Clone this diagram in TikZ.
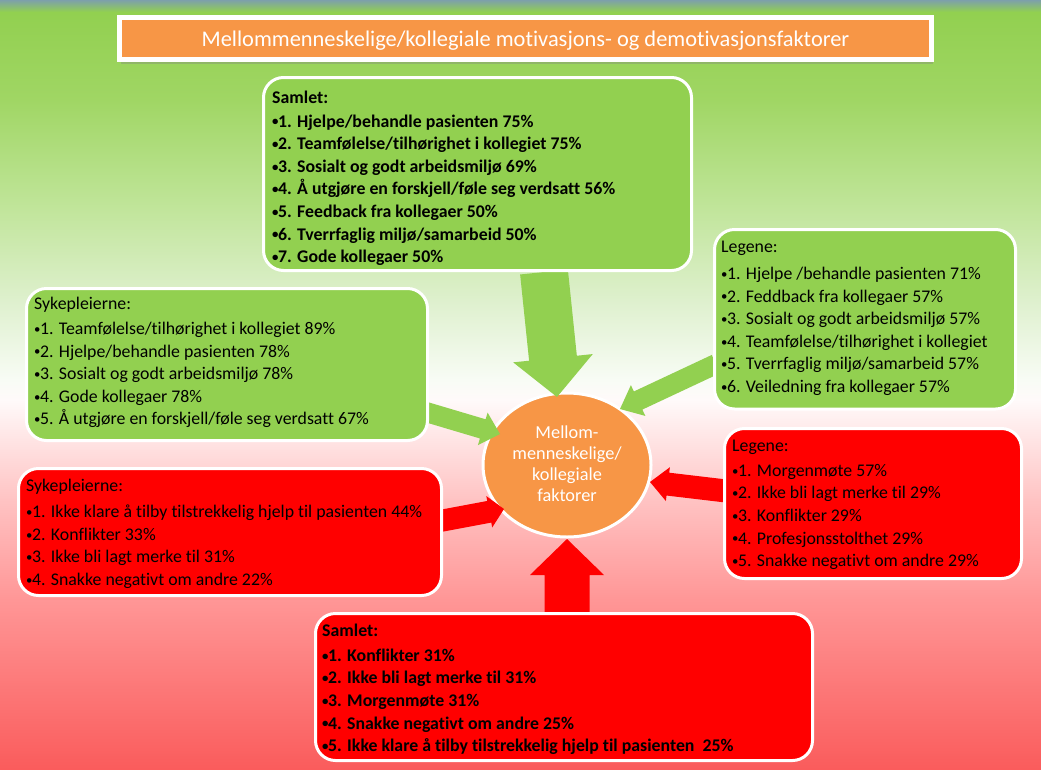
\documentclass[tikz,border=0pt]{standalone}
\usepackage{fontspec}
\usepackage{graphicx}
\setmainfont{Carlito}[Ligatures={NoCommon}]
\usetikzlibrary{calc,shadows,shapes.geometric}
\definecolor{gfill}{RGB}{146,208,80}
\definecolor{rfill}{RGB}{255,0,0}
\definecolor{ofill}{RGB}{247,150,70}
\definecolor{stripc}{RGB}{125,160,170}
\definecolor{bg0}{RGB}{250,92,92}
\definecolor{bg1}{RGB}{255,150,150}
\definecolor{bg2}{RGB}{255,195,195}
\definecolor{bg3}{RGB}{255,228,228}
\definecolor{bg4}{RGB}{255,250,250}
\definecolor{bg5}{RGB}{248,252,245}
\definecolor{bg6}{RGB}{222,240,205}
\definecolor{bg7}{RGB}{190,228,150}
\definecolor{bg8}{RGB}{160,214,100}
\definecolor{bg9}{RGB}{146,208,80}
\pgfdeclareverticalshading{bgshade}{100bp}{color(0bp)=(bg0); color(25bp)=(bg0); color(36bp)=(bg1); color(42.5bp)=(bg2); color(46.4bp)=(bg3); color(49bp)=(bg4); color(50.3bp)=(bg5); color(55.5bp)=(bg6); color(62bp)=(bg7); color(68.5bp)=(bg8); color(74.2bp)=(bg9); color(75bp)=(bg9); color(100bp)=(bg9)}
\newcommand\blockarrow[6]{%
  \path ($(#2)!#5!(#1)$) coordinate (babase);
  \fill[#6] ($(#1)!#3!90:(#2)$) -- ($(babase)!#3!90:(#2)$) -- ($(babase)!#4!90:(#2)$) -- (#2) -- ($(babase)!#4!-90:(#2)$) -- ($(babase)!#3!-90:(#2)$) -- ($(#1)!#3!-90:(#2)$) -- cycle;}
\newcommand\blt{\raisebox{1.2pt}{\scalebox{0.72}{•}}\kern-0.5pt}
\tikzset{
  boxg/.style={draw=white, line width=3pt, fill=gfill, rounded corners=20pt, inner sep=0pt},
  boxr/.style={draw=white, line width=3pt, fill=rfill, rounded corners=20pt, inner sep=0pt},
  txt/.style={align=left, inner sep=0pt, anchor=north west, text=black, font=\fontsize{17.8}{22.6}\selectfont},
  txtb/.style={txt, font=\fontsize{17.8}{22.6}\selectfont\bfseries}
}
\begin{document}
\begin{tikzpicture}[x=1pt,y=-1pt]
\useasboundingbox (0,0) rectangle (1041,769);
\shade[shading=bgshade] (0,0) rectangle (1041,769);
\shade[top color=stripc, bottom color=bg9] (0,0) rectangle (1041,12);

% title
\node[draw=white, line width=5pt, fill=ofill, minimum width=812pt, minimum height=42pt, inner sep=0pt,
      drop shadow={shadow xshift=1pt, shadow yshift=-4pt, opacity=0.35}] (tbox) at (525.5,38.5) {};
\node[text=white, font=\fontsize{22.4}{26}\selectfont, anchor=base, inner sep=0pt] (ttl) at (525.5,46.5)
  {Mellommenneskelige/kollegiale motivasjons- og demotivasjonsfaktorer};

% centre
\node[ellipse, draw=white, line width=3pt, fill=ofill, minimum width=168pt, minimum height=144pt, inner sep=0pt] (ctr) at (567,465) {};

% arrow end points
\coordinate (a1s) at (544,272); \coordinate (a1e) at (557,397);
\coordinate (a2s) at (716,364); \coordinate (a2e) at (620,409);
\coordinate (a3s) at (426,412); \coordinate (a3e) at (500,434);
\coordinate (a4s) at (440,521); \coordinate (a4e) at (504,509);
\coordinate (a5s) at (726,491); \coordinate (a5e) at (650,482);
\coordinate (a6s) at (567,614); \coordinate (a6e) at (567,539);
\blockarrow{a1s}{a1e}{24pt}{40pt}{39pt}{gfill}
\blockarrow{a2s}{a2e}{10pt}{17pt}{20pt}{gfill}
\blockarrow{a3s}{a3e}{10pt}{17pt}{18pt}{gfill}
\blockarrow{a4s}{a4e}{11pt}{16pt}{15pt}{rfill}
\blockarrow{a5s}{a5e}{11.5pt}{17pt}{18pt}{rfill}
\blockarrow{a6s}{a6e}{22.5pt}{37pt}{36pt}{rfill}

\node[text=white, font=\fontsize{18.3}{21}\selectfont, align=center, inner sep=0pt, anchor=north] (ctxt) at (567,423.3)
  {\strut Mellom-\\menneskelige/\\kollegiale\\faktorer};

% boxes
\node[boxg, minimum width=428pt, minimum height=193pt] (topg) at (477.5,174) {};
\node[boxg, minimum width=301pt, minimum height=179.5pt] (legg) at (865,319.25) {};
\node[boxg, minimum width=401pt, minimum height=152pt] (sykg) at (227,364.5) {};
\node[boxr, minimum width=423pt, minimum height=127pt] (sykr) at (230,532) {};
\node[boxr, minimum width=297pt, minimum height=150pt] (legr) at (873,503.5) {};
\node[boxr, minimum width=497pt, minimum height=147pt] (samr) at (564,687) {};

% texts
\node[txtb] (ttopg) at (272,87.1) {\strut Samlet:\\[1.3pt]
\blt1. Hjelpe/behandle pasienten 75\%\\
\blt2. Teamfølelse/tilhørighet i kollegiet 75\%\\
\blt3. Sosialt og godt arbeidsmiljø 69\%\\
\blt4. Å utgjøre en forskjell/føle seg verdsatt 56\%\\
\blt5. Feedback fra kollegaer 50\%\\
\blt6. Tverrfaglig miljø/samarbeid 50\%\\
\blt7. Gode kollegaer 50\%};

\node[txt] (tlegg) at (721,236.8) {\strut Legene:\\[4pt]
\blt1. Hjelpe /behandle pasienten 71\%\\
\blt2. Feddback fra kollegaer 57\%\\
\blt3. Sosialt og godt arbeidsmiljø 57\%\\
\blt4. Teamfølelse/tilhørighet i kollegiet\\
\blt5. Tverrfaglig miljø/samarbeid 57\%\\
\blt6. Veiledning fra kollegaer 57\%};

\node[txt] (tsykg) at (34,293.4) {\strut Sykepleierne:\\[2.5pt]
\blt1. Teamfølelse/tilhørighet i kollegiet 89\%\\
\blt2. Hjelpe/behandle pasienten 78\%\\
\blt3. Sosialt og godt arbeidsmiljø 78\%\\
\blt4. Gode kollegaer 78\%\\
\blt5. Å utgjøre en forskjell/føle seg verdsatt 67\%};

\node[txt] (tsykr) at (26,475.1) {\strut Sykepleierne:\\[4pt]
\blt1. Ikke klare å tilby tilstrekkelig hjelp til pasienten 44\%\\
\blt2. Konflikter 33\%\\
\blt3. Ikke bli lagt merke til 31\%\\
\blt4. Snakke negativt om andre 22\%};

\node[txt] (tlegr) at (732,435.1) {\strut Legene:\\[2.5pt]
\blt1. Morgenmøte 57\%\\
\blt2. Ikke bli lagt merke til 29\%\\
\blt3. Konflikter 29\%\\
\blt4. Profesjonsstolthet 29\%\\
\blt5. Snakke negativt om andre 29\%};

\node[txtb] (tsamr) at (322,620.1) {\strut Samlet:\\[2.5pt]
\blt1. Konflikter 31\%\\
\blt2. Ikke bli lagt merke til 31\%\\
\blt3. Morgenmøte 31\%\\
\blt4. Snakke negativt om andre 25\%\\
\blt5. Ikke klare å tilby tilstrekkelig hjelp til pasienten~~25\%};
\end{tikzpicture}
\end{document}
